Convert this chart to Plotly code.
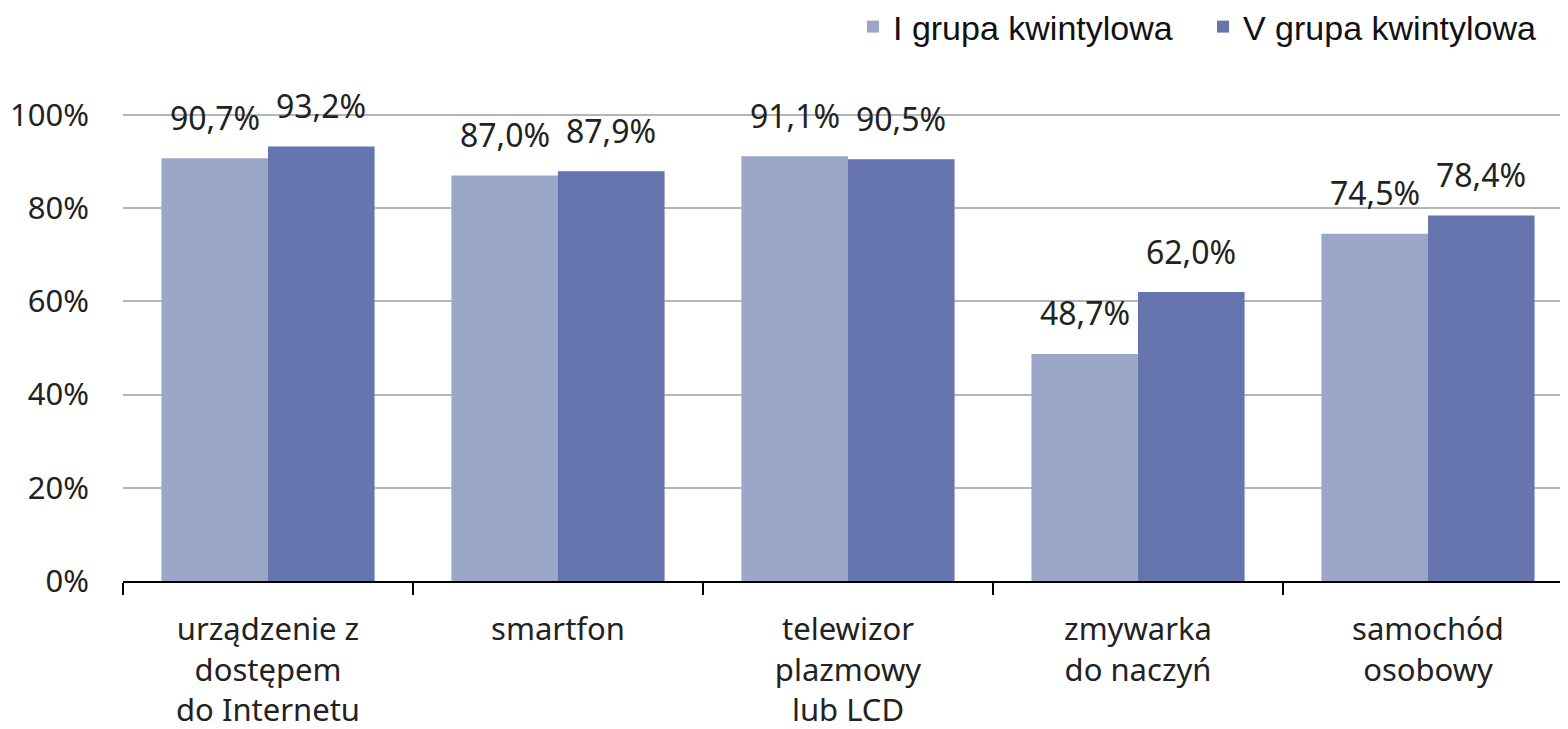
import plotly.graph_objects as go

categories = [
    "urządzenie z<br>dostępem<br>do Internetu",
    "smartfon",
    "telewizor<br>plazmowy<br>lub LCD",
    "zmywarka<br>do naczyń",
    "samochód<br>osobowy",
]
series_names = ["I grupa kwintylowa", "V grupa kwintylowa"]
values_q1 = [90.7, 87.0, 91.1, 48.7, 74.5]
values_q5 = [93.2, 87.9, 90.5, 62.0, 78.4]
colors = ["#9BA7C9", "#6675AD"]
y_ticks = [0, 20, 40, 60, 80, 100]
y_tick_labels = [f"{v}%" for v in y_ticks]

FONT = "Noto Sans, Open Sans, sans-serif"
W, H = 1560, 721

fig = go.Figure()
for name, vals, col in zip(series_names, [values_q1, values_q5], colors):
    fig.add_trace(go.Bar(
        name=name, x=categories, y=vals, marker_color=col,
        marker_line_width=0, hoverinfo="skip",
    ))

def fmt(v):
    return f"{v:.1f}".replace(".", ",") + "%"

annotations = []
for shift, vals in zip([-53, 53], [values_q1, values_q5]):
    for c, v in zip(categories, vals):
        annotations.append(dict(
            x=c, y=v, xref="x", yref="y", text=fmt(v), showarrow=False,
            xshift=shift, yshift=41, yanchor="middle", xanchor="center",
            font=dict(family=FONT, size=32, color="#222222"),
        ))

fig.update_layout(
    width=W, height=H,
    paper_bgcolor="white", plot_bgcolor="white",
    margin=dict(l=115, r=0, t=105, b=148, autoexpand=False),
    barmode="group", bargap=0.265, bargroupgap=0,
    font=dict(family=FONT, size=32, color="#222222"),
    annotations=annotations,
    showlegend=True,
    legend=dict(
        orientation="h", xref="container", yref="container",
        x=845 / W, xanchor="left", y=1 - 19 / H, yanchor="middle",
        font=dict(family="Liberation Sans Narrow, Liberation Sans, Arial, sans-serif", size=34, color="#111111"),
        itemclick=False, itemdoubleclick=False, traceorder="normal",
        itemwidth=30, entrywidth=305, entrywidthmode="pixels",
        bgcolor="rgba(0,0,0,0)",
    ),
    xaxis=dict(
        type="category", range=[-0.5, -0.5 + (W - 115) / 290], automargin=False,
        showline=True, linecolor="#000000", linewidth=2,
        ticks="outside", tickson="boundaries", ticklen=12,
        tickcolor="#000000", tickwidth=2,
        showgrid=False, tickfont=dict(family=FONT, size=31, color="#222222"),
        ticklabelstandoff=20,
    ),
    yaxis=dict(
        range=[0, 100.4], tickvals=y_ticks, ticktext=y_tick_labels,
        automargin=False,
        showgrid=True, gridcolor="#B5B5B5", gridwidth=2,
        zeroline=False, showline=False, ticks="",
        tickfont=dict(family=FONT, size=31, color="#222222"),
        ticklabelstandoff=33,
    ),
)

fig.write_html("out.html")
